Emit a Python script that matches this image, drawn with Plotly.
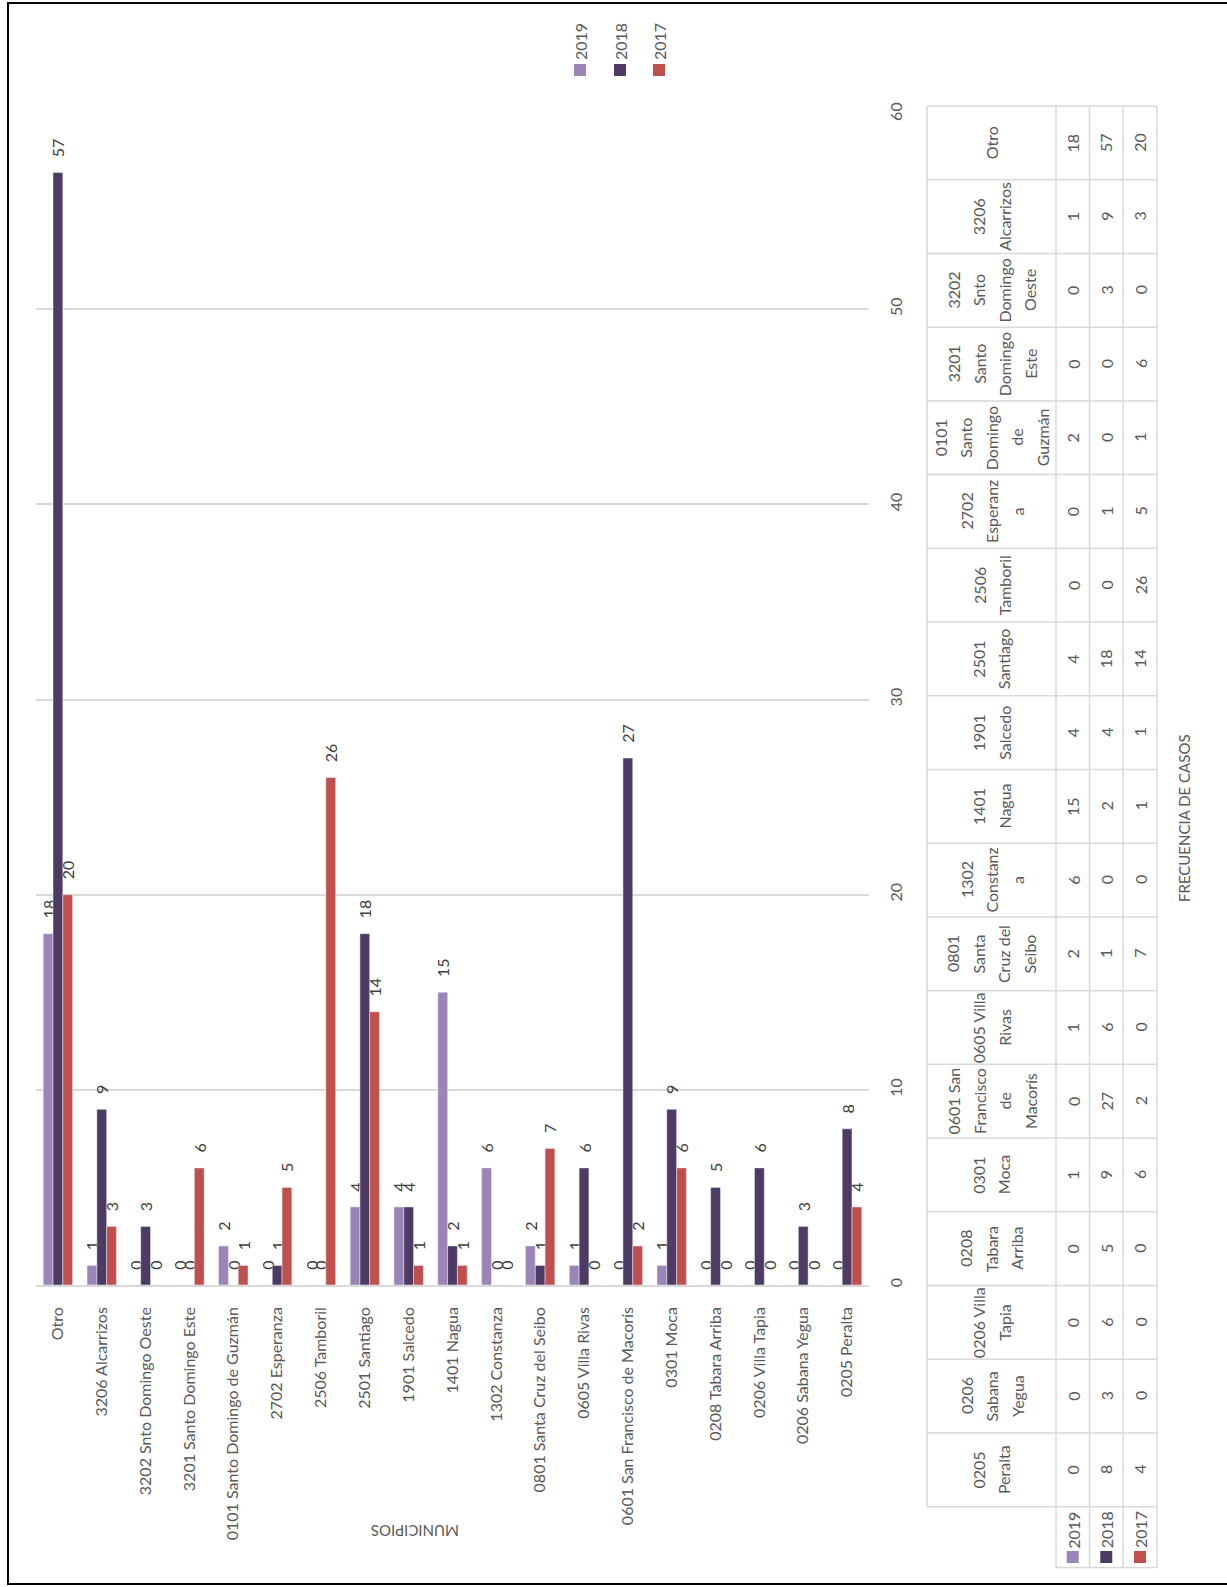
import plotly.graph_objects as go

# ---------------- data ----------------
categories = ["Otro", "3206 Alcarrizos", "3202 Snto Domingo Oeste", "3201 Santo Domingo Este",
              "0101 Santo Domingo de Guzmán", "2702 Esperanza", "2506 Tamboril", "2501 Santiago",
              "1901 Salcedo", "1401 Nagua", "1302 Constanza", "0801 Santa Cruz del Seibo",
              "0605 Villa Rivas", "0601 San Francisco de Macorís", "0301 Moca", "0208 Tabara Arriba",
              "0206 Villa Tapia", "0206 Sabana Yegua", "0205 Peralta"]
table_headers = ["Otro", "3206<br>Alcarrizos", "3202<br>Snto<br>Domingo<br>Oeste",
                 "3201<br>Santo<br>Domingo<br>Este", "0101<br>Santo<br>Domingo<br>de<br>Guzmán",
                 "2702<br>Esperanz<br>a", "2506<br>Tamboril", "2501<br>Santiago", "1901<br>Salcedo",
                 "1401<br>Nagua", "1302<br>Constanz<br>a", "0801<br>Santa<br>Cruz del<br>Seibo",
                 "0605 Villa<br>Rivas", "0601 San<br>Francisco<br>de<br>Macorís", "0301<br>Moca",
                 "0208<br>Tabara<br>Arriba", "0206 Villa<br>Tapia", "0206<br>Sabana<br>Yegua",
                 "0205<br>Peralta"]
v2019 = [18, 1, 0, 0, 2, 0, 0, 4, 4, 15, 6, 2, 1, 0, 1, 0, 0, 0, 0]
v2018 = [57, 9, 3, 0, 0, 1, 0, 18, 4, 2, 0, 1, 6, 27, 9, 5, 6, 3, 8]
v2017 = [20, 3, 0, 6, 1, 5, 26, 14, 1, 1, 0, 7, 0, 2, 6, 0, 0, 0, 4]
series_names = ["2019", "2018", "2017"]
series_values = [v2019, v2018, v2017]
colors = ["#9B84B7", "#4E3B64", "#C0504D"]
value_ticks = [0, 10, 20, 30, 40, 50, 60]

# ---------------- geometry ----------------
W, H = 1227, 1587
PL, PR, PT, PB = 36, 869, 114, 1285  # plot area in pixels
FONT = "Lato"
TXT = "#595959"
GRID = "#D9D9D9"
FS = 16


def PX(x):
    return (x - PL) / (PR - PL)


def PY(y):
    return (PB - y) / (PB - PT)


def label(x, y, text, angle=-90, size=FS):
    return dict(xref="paper", yref="paper", x=PX(x), y=PY(y), text=text, showarrow=False,
                xanchor="center", yanchor="middle", textangle=angle,
                font=dict(family=FONT, size=size, color=TXT))


fig = go.Figure()
for name, vals, col in zip(series_names, series_values, colors):
    fig.add_trace(go.Bar(
        x=categories, y=vals, name=name, marker_color=col,
        text=vals, texttemplate="\u00a0\u00a0\u00a0%{text}", textposition="outside", textangle=-90,
        constraintext="none", cliponaxis=False,
        textfont=dict(family=FONT, size=16, color="#404040"),
    ))

shapes = []
ann = []

# outer border
shapes.append(dict(type="rect", xref="paper", yref="paper", x0=PX(8), x1=PX(1232),
                   y0=PY(3), y1=PY(1584), line=dict(color="black", width=2)))

# legend at top
leg_x = [580, 620, 659]
for name, col, lx in zip(series_names, colors, leg_x):
    shapes.append(dict(type="rect", xref="paper", yref="paper", x0=PX(lx - 6), x1=PX(lx + 6),
                       y0=PY(64), y1=PY(76), fillcolor=col, line=dict(width=0)))
    ann.append(label(lx, 42, name))

# data table
t_left, t_c1, t_right = 927, 1056, 1157
col_edges = [1056, 1089.5, 1123, 1157]
t_top = 106
row_h = 73.72
nrows = len(categories)
t_bot = t_top + nrows * row_h
key_bot = 1567.5
lw = 1.5
for k in range(nrows + 1):
    y = t_top + k * row_h
    shapes.append(dict(type="line", xref="paper", yref="paper", x0=PX(t_left), x1=PX(t_right),
                       y0=PY(y), y1=PY(y), line=dict(color=GRID, width=lw)))
shapes.append(dict(type="line", xref="paper", yref="paper", x0=PX(t_c1), x1=PX(t_right),
                   y0=PY(key_bot), y1=PY(key_bot), line=dict(color=GRID, width=lw)))
shapes.append(dict(type="line", xref="paper", yref="paper", x0=PX(t_left), x1=PX(t_left),
                   y0=PY(t_top), y1=PY(t_bot), line=dict(color=GRID, width=lw)))
for xe in col_edges:
    shapes.append(dict(type="line", xref="paper", yref="paper", x0=PX(xe), x1=PX(xe),
                       y0=PY(t_top), y1=PY(key_bot), line=dict(color=GRID, width=lw)))

line_sp = 25.5
for i, hdr in enumerate(table_headers):
    yc = t_top + (i + 0.5) * row_h
    lines = hdr.split("<br>")
    n = len(lines)
    xc = (t_left + t_c1) / 2
    for j, ln in enumerate(lines):
        lx = xc + (j - (n - 1) / 2) * line_sp
        ann.append(label(lx, yc, ln))
    for s, vals in enumerate(series_values):
        cx = (col_edges[s] + col_edges[s + 1]) / 2
        ann.append(label(cx, yc, str(vals[i])))

# legend keys in table
for s, (name, col) in enumerate(zip(series_names, colors)):
    cx = (col_edges[s] + col_edges[s + 1]) / 2
    ann.append(label(cx, 1530, name))
    shapes.append(dict(type="rect", xref="paper", yref="paper", x0=PX(cx - 6), x1=PX(cx + 6),
                       y0=PY(1551), y1=PY(1563), fillcolor=col, line=dict(width=0)))

# axis titles
ann.append(label(1184, 818, "FRECUENCIA DE CASOS", size=15))
ann.append(label(415, 1531, "MUNICIPIOS", angle=180, size=15))

fig.update_layout(
    width=W, height=H, autosize=False,
    margin=dict(l=PL, r=W - PR, t=PT, b=H - PB, pad=0),
    paper_bgcolor="white", plot_bgcolor="white",
    barmode="group", bargap=0.33, bargroupgap=0,
    showlegend=False,
    shapes=shapes, annotations=ann,
    font=dict(family=FONT, color=TXT),
    xaxis=dict(tickangle=-90, tickfont=dict(family=FONT, size=FS, color=TXT), showline=True,
               linecolor=GRID, linewidth=1.5, ticks="", ticklabelstandoff=14, showgrid=False),
    yaxis=dict(side="right", range=[0, 60], tickvals=value_ticks, tickangle=-90,
               tickfont=dict(family=FONT, size=FS, color=TXT), showgrid=True, gridcolor=GRID,
               gridwidth=1.5, zeroline=False, showline=False, ticks="", ticklabelstandoff=16),
)

fig.write_html("out.html")
